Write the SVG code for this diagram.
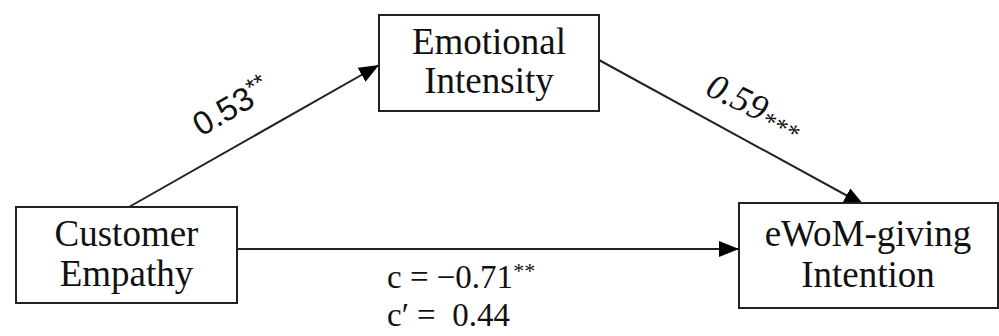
<svg xmlns="http://www.w3.org/2000/svg" width="999" height="336" viewBox="0 0 999 336">
<style>
.box{fill:#fff;stroke:#222;stroke-width:2}
.t{font-family:"Liberation Serif","DejaVu Serif",serif;font-size:37px;fill:#111;text-anchor:middle}
.lbl{font-family:"Liberation Sans","DejaVu Sans",sans-serif;font-size:33px;fill:#111}
.lbi{font-family:"Liberation Serif","DejaVu Serif",serif;font-size:36px;font-style:italic;fill:#111}
.c{font-family:"Liberation Serif","DejaVu Serif",serif;font-size:33px;fill:#111}
.edge{stroke:#222;stroke-width:2;fill:none;marker-end:url(#ah)}
</style>
<defs>
<marker id="ah" viewBox="0 0 20 16" refX="20" refY="8" markerWidth="20" markerHeight="16" markerUnits="userSpaceOnUse" orient="auto">
<path d="M0,0 L20,8 L0,16 z" fill="#000"/>
</marker>
</defs>
<rect width="999" height="336" fill="#fff"/>
<g id="connectors">
<line class="edge" x1="129" y1="207" x2="379" y2="65"/>
<line class="edge" x1="599" y1="60" x2="864" y2="205"/>
<line class="edge" x1="237" y1="249" x2="739" y2="249"/>
</g>
<g id="emotional">
<rect class="box" x="379" y="15" width="220" height="96"/>
<text class="t" x="489" y="54">Emotional</text>
<text class="t" x="489" y="93">Intensity</text>
</g>
<g id="customer">
<rect class="box" x="16" y="207" width="221" height="96"/>
<text class="t" x="126.5" y="246">Customer</text>
<text class="t" x="126.5" y="286">Empathy</text>
</g>
<g id="ewom">
<rect class="box" x="739" y="203" width="259" height="105"/>
<text class="t" x="868" y="246">eWoM-giving</text>
<text class="t" x="868" y="287">Intention</text>
</g>
<g id="labels">
<text class="lbl" transform="translate(201,137) rotate(-30)">0.53<tspan font-size="24" dy="-10">**</tspan></text>
<text class="lbi" transform="translate(704,94) rotate(26)">0.59<tspan font-size="26" dy="5">***</tspan></text>
<text class="c" x="387" y="288">c = −0.71<tspan font-size="22" dy="-10">**</tspan></text>
<text class="c" x="387" y="326" xml:space="preserve">c′ =  0.44</text>
</g>
</svg>
